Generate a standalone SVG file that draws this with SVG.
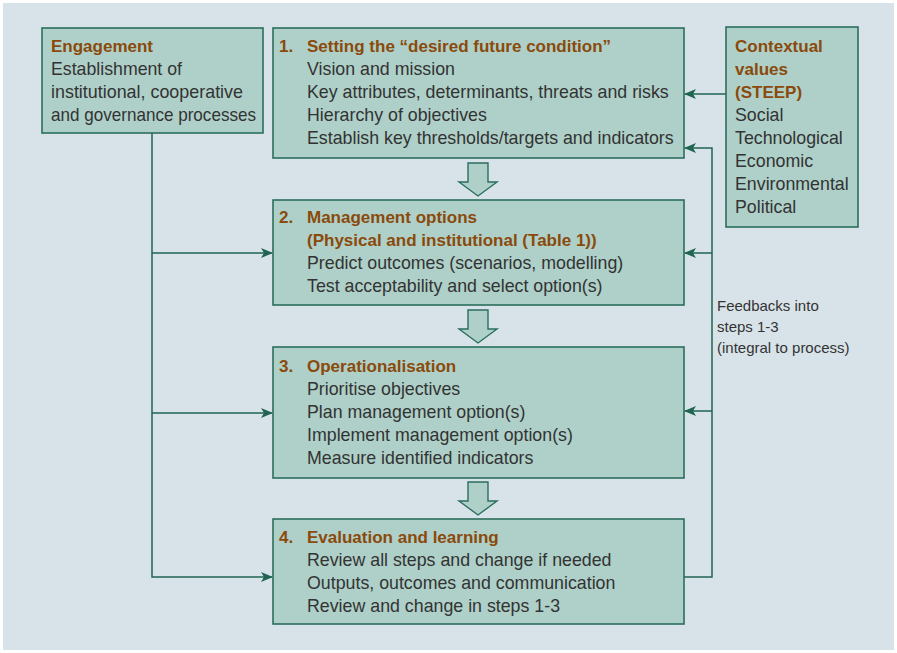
<svg xmlns="http://www.w3.org/2000/svg" width="897" height="653" viewBox="0 0 897 653">
  <style>
    .box { fill: #aed0c8; stroke: #2b6e5d; stroke-width: 1.6; }
    .blk { fill: #aed0c8; stroke: #2b6e5d; stroke-width: 1.4; stroke-linejoin: miter; }
    .t { font-family: "Liberation Sans", Arial, sans-serif; font-size: 17.8px; fill: #333333; }
    .h { font-family: "Liberation Sans", Arial, sans-serif; font-size: 17px; font-weight: bold; fill: #8a4a0c; }
    .f { font-family: "Liberation Sans", Arial, sans-serif; font-size: 15px; fill: #333333; }
    .ln { fill: none; stroke: #1f6552; stroke-width: 1.5; }
  </style>
  <defs>
    <marker id="ah" viewBox="0 0 12 10" refX="11" refY="5" markerWidth="12" markerHeight="10" markerUnits="userSpaceOnUse" orient="auto">
      <path d="M0,0 L12,5 L0,10 L3,5 Z" fill="#1f6552"/>
    </marker>
  </defs>

  <!-- background panel -->
  <rect x="3" y="3" width="891" height="647" fill="#d8e3e9"/>

  <!-- connectors -->
  <g id="connectors">
    <!-- engagement feeds steps 2-4 -->
    <path class="ln" d="M152,133 V577 H272" marker-end="url(#ah)"/>
    <path class="ln" d="M152,253 H272" marker-end="url(#ah)"/>
    <path class="ln" d="M152,413 H272" marker-end="url(#ah)"/>
    <!-- contextual values into step 1 -->
    <path class="ln" d="M726,94 H685" marker-end="url(#ah)"/>
    <!-- feedback loop from step 4 -->
    <path class="ln" d="M684,577 H712 V148 H685" marker-end="url(#ah)"/>
    <path class="ln" d="M712,253 H685" marker-end="url(#ah)"/>
    <path class="ln" d="M712,411 H685" marker-end="url(#ah)"/>
    <!-- block arrows between steps -->
    <path class="blk" d="M468,163 H488 V182 H497 L478,196 L459,182 H468 Z"/>
    <path class="blk" d="M468,310 H488 V329 H497 L478,343 L459,329 H468 Z"/>
    <path class="blk" d="M468,482 H488 V501 H497 L478,515 L459,501 H468 Z"/>
  </g>

  <g id="engagement">
    <rect class="box" x="42" y="28" width="221" height="105"/>
    <text class="h" x="51" y="52">Engagement</text>
    <text class="t" x="51" y="75" textLength="131" lengthAdjust="spacingAndGlyphs">Establishment of</text>
    <text class="t" x="51" y="98" textLength="192" lengthAdjust="spacingAndGlyphs">institutional, cooperative</text>
    <text class="t" x="51" y="121" textLength="205" lengthAdjust="spacingAndGlyphs">and governance processes</text>
  </g>

  <g id="step1">
    <rect class="box" x="273" y="28" width="411" height="130"/>
    <text class="h" x="279" y="52">1.</text>
    <text class="h" x="307" y="52">Setting the “desired future condition”</text>
    <text class="t" x="307" y="75">Vision and mission</text>
    <text class="t" x="307" y="98">Key attributes, determinants, threats and risks</text>
    <text class="t" x="307" y="121">Hierarchy of objectives</text>
    <text class="t" x="307" y="144">Establish key thresholds/targets and indicators</text>
  </g>

  <g id="contextual">
    <rect class="box" x="726" y="27" width="132" height="200"/>
    <text class="h" x="735" y="52">Contextual</text>
    <text class="h" x="735" y="75">values</text>
    <text class="h" x="735" y="98">(STEEP)</text>
    <text class="t" x="735" y="121">Social</text>
    <text class="t" x="735" y="144">Technological</text>
    <text class="t" x="735" y="167">Economic</text>
    <text class="t" x="735" y="190">Environmental</text>
    <text class="t" x="735" y="213">Political</text>
  </g>

  <g id="step2">
    <rect class="box" x="273" y="200" width="411" height="105"/>
    <text class="h" x="279" y="223">2.</text>
    <text class="h" x="307" y="223">Management options</text>
    <text class="h" x="307" y="246">(Physical and institutional (Table 1))</text>
    <text class="t" x="307" y="269">Predict outcomes (scenarios, modelling)</text>
    <text class="t" x="307" y="292">Test acceptability and select option(s)</text>
  </g>

  <g id="step3">
    <rect class="box" x="273" y="347" width="411" height="131"/>
    <text class="h" x="279" y="372">3.</text>
    <text class="h" x="307" y="372">Operationalisation</text>
    <text class="t" x="307" y="395">Prioritise objectives</text>
    <text class="t" x="307" y="418">Plan management option(s)</text>
    <text class="t" x="307" y="441">Implement management option(s)</text>
    <text class="t" x="307" y="464">Measure identified indicators</text>
  </g>

  <g id="step4">
    <rect class="box" x="273" y="519" width="411" height="105"/>
    <text class="h" x="279" y="543">4.</text>
    <text class="h" x="307" y="543">Evaluation and learning</text>
    <text class="t" x="307" y="566">Review all steps and change if needed</text>
    <text class="t" x="307" y="589">Outputs, outcomes and communication</text>
    <text class="t" x="307" y="612">Review and change in steps 1-3</text>
  </g>

  <g id="feedback-label">
    <text class="f" x="717" y="311">Feedbacks into</text>
    <text class="f" x="717" y="332">steps 1-3</text>
    <text class="f" x="717" y="353">(integral to process)</text>
  </g>
</svg>
